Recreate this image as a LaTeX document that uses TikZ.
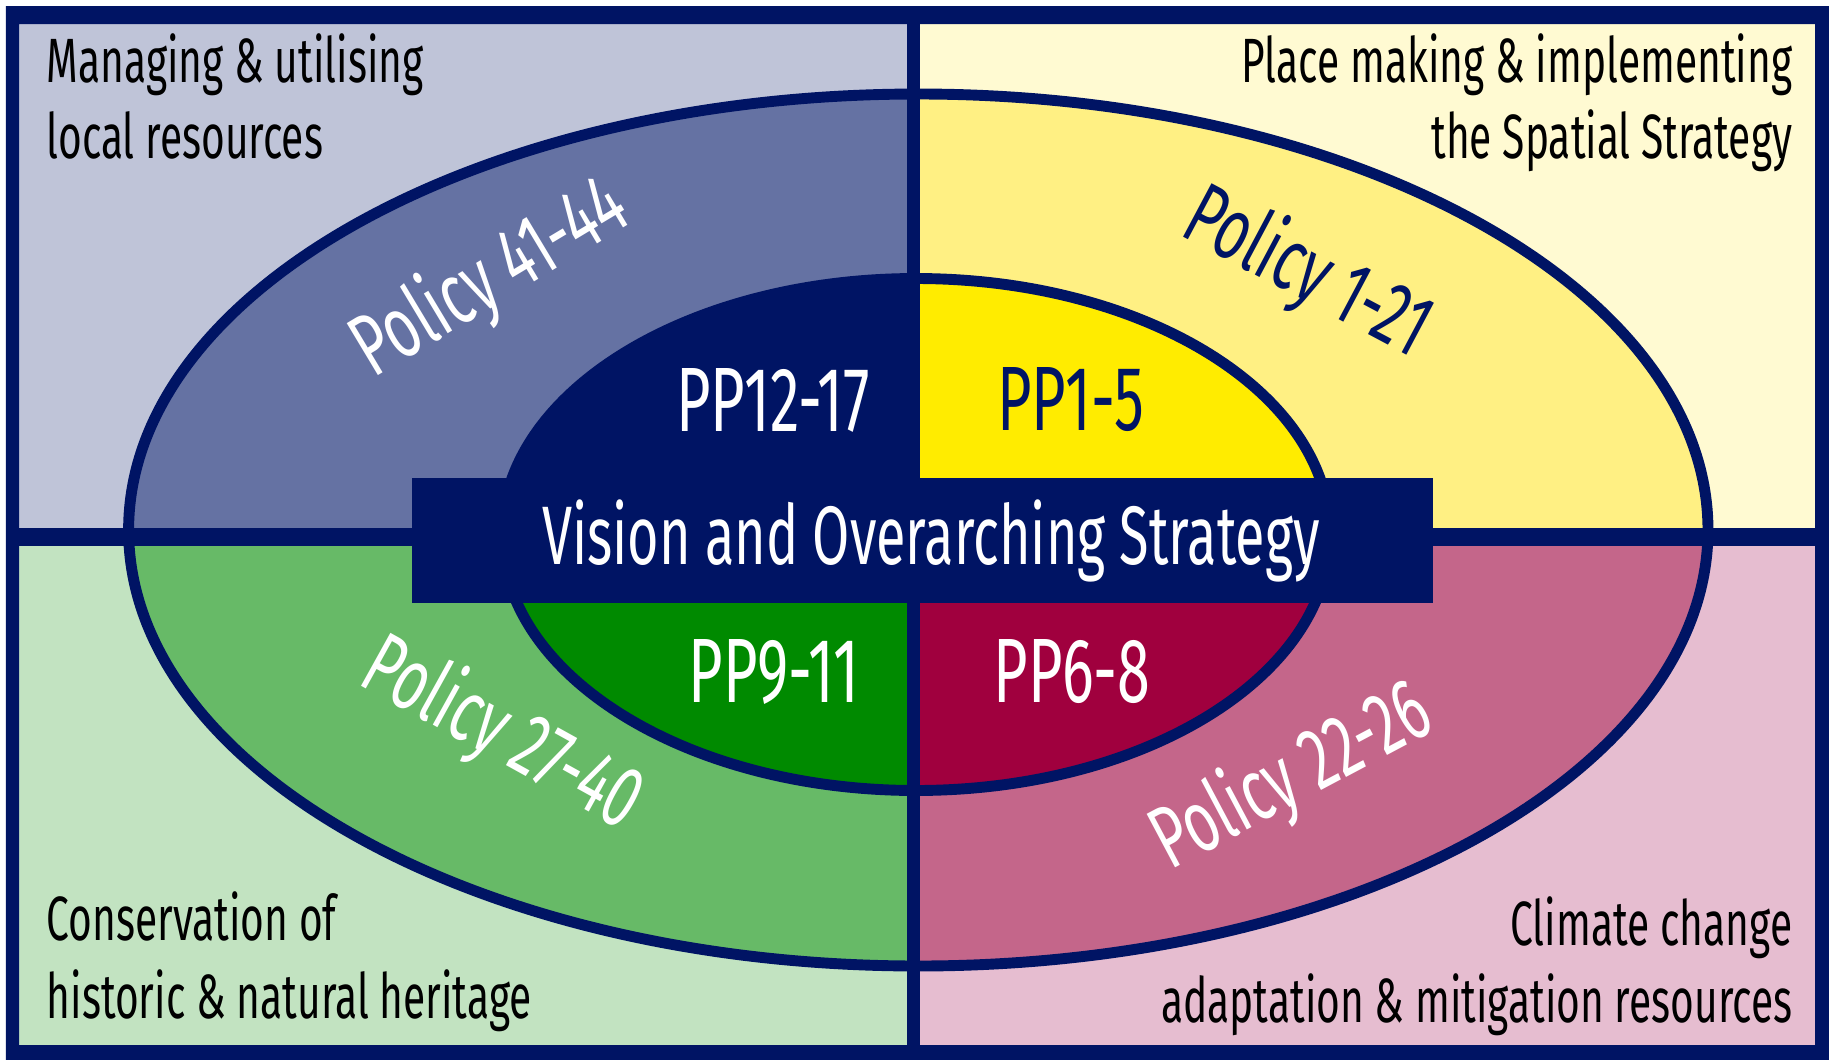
\documentclass[tikz,border=0pt]{standalone}
\usepackage{fontspec}
\setmainfont{Fira Sans}[FakeStretch=0.65]
\definecolor{navy}{RGB}{0,20,100}
\definecolor{tllight}{RGB}{191,196,216}
\definecolor{trlight}{RGB}{255,250,210}
\definecolor{bllight}{RGB}{194,227,193}
\definecolor{brlight}{RGB}{230,189,208}
\definecolor{tlmid}{RGB}{101,114,163}
\definecolor{trmid}{RGB}{255,240,131}
\definecolor{blmid}{RGB}{103,186,103}
\definecolor{brmid}{RGB}{196,102,138}
\definecolor{trinner}{RGB}{255,236,0}
\definecolor{blinner}{RGB}{0,138,0}
\definecolor{brinner}{RGB}{160,0,62}
\begin{document}
\begin{tikzpicture}[x=0.01cm,y=-0.01cm,
		corner/.style={inner sep=0pt,font=\fontsize{17.8}{21}\selectfont},
		policy/.style={inner sep=0pt,white,font=\fontsize{25}{30}\selectfont},
		pp/.style={inner sep=0pt,white,font=\fontsize{26}{31}\selectfont}]
		\useasboundingbox (0,0) rectangle (1829,1060);
		\fill[white] (0,0) rectangle (1829,1060);
		% quadrants
		\fill[tllight] (19,24) rectangle (913.5,537);
		\fill[trlight] (913.5,24) rectangle (1815,537);
		\fill[bllight] (19,537) rectangle (913.5,1045);
		\fill[brlight] (913.5,537) rectangle (1815,1045);
		\begin{scope}
			\clip (19,24) rectangle (913.5,537);
			\fill[tlmid] (918.3,530) ellipse [x radius=789.7, y radius=436];
			\fill[navy] (916,534.5) ellipse [x radius=414, y radius=256];
		\end{scope}
		\begin{scope}
			\clip (913.5,24) rectangle (1815,537);
			\fill[trmid] (918.3,530) ellipse [x radius=789.7, y radius=436];
			\fill[trinner] (916,534.5) ellipse [x radius=414, y radius=256];
		\end{scope}
		\begin{scope}
			\clip (19,537) rectangle (913.5,1045);
			\fill[blmid] (918.3,530) ellipse [x radius=789.7, y radius=436];
			\fill[blinner] (916,534.5) ellipse [x radius=414, y radius=256];
		\end{scope}
		\begin{scope}
			\clip (913.5,537) rectangle (1815,1045);
			\fill[brmid] (918.3,530) ellipse [x radius=789.7, y radius=436];
			\fill[brinner] (916,534.5) ellipse [x radius=414, y radius=256];
		\end{scope}
		\draw[navy,line width=3.1pt] (918.3,530) ellipse [x radius=789.7, y radius=436];
		\draw[navy,line width=3.1pt] (916,534.5) ellipse [x radius=414, y radius=256];
		% dividers and frame
		\fill[navy] (907,6) rectangle (920,1060);
		\fill[navy] (6,528) rectangle (1829,546);
		\fill[navy,even odd rule] (6,6) rectangle (1829,1060) (19,24) rectangle (1815,1045);
		% centre
		\node[fill=navy,minimum width=10.21cm,minimum height=1.25cm] (box) at (922.5,540.5) {};
		\node[pp,font=\fontsize{23.6}{28}\selectfont] (vision) at (931,540.5) {Vision and Overarching Strategy};
		\node[pp] (pp1217) at (773,400) {PP12-17};
		\node[pp,text=navy] (pp15) at (1071,400) {PP1-5};
		\node[pp] (pp911) at (774,672) {PP9-11};
		\node[pp] (pp68) at (1072,672) {PP6-8};
		% policies
		\node[policy,rotate=31] (pol4144) at (491,279) {Policy 41-44};
		\node[policy,text=navy,rotate=-28] (pol121) at (1307,274) {Policy 1-21};
		\node[policy,rotate=-29] (pol2740) at (502,735) {Policy 27-40};
		\node[policy,rotate=28] (pol2226) at (1292,778) {Policy 22-26};
		% corner texts
		\node[corner,anchor=base west] (tl1) at (46,82) {Managing \& utilising};
		\node[corner,anchor=base west] (tl2) at (46,158) {local resources};
		\node[corner,anchor=base east] (tr1) at (1793,82) {Place making \& implementing};
		\node[corner,anchor=base east] (tr2) at (1793,158) {the Spatial Strategy};
		\node[corner,anchor=base west] (bl1) at (46,940) {Conservation of};
		\node[corner,anchor=base west] (bl2) at (46,1018) {historic \& natural heritage};
		\node[corner,anchor=base east] (br1) at (1793,945) {Climate change};
		\node[corner,anchor=base east] (br2) at (1793,1022) {adaptation \& mitigation resources};
	\end{tikzpicture}
\end{document}
